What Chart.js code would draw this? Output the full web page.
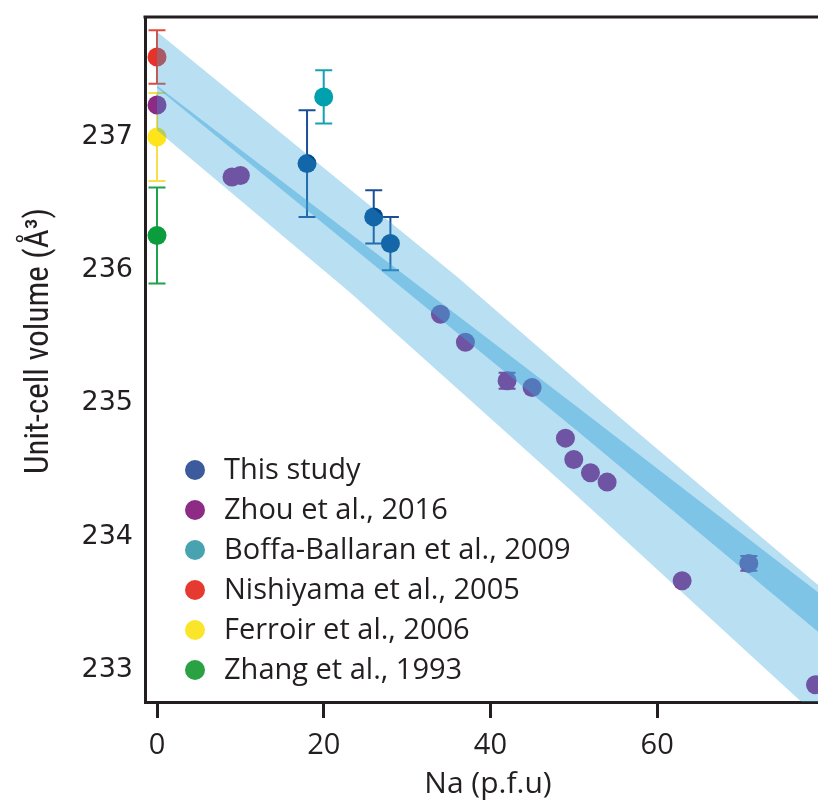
<!DOCTYPE html>
<html>
<head>
<meta charset="utf-8">
<script src="https://cdn.jsdelivr.net/npm/chart.js@4.4.0/dist/chart.umd.min.js"></script>
<style>
  html, body { margin: 0; padding: 0; background: #fff; }
  #wrap { width: 818px; height: 803px; }
</style>
</head>
<body>
<div id="wrap"><canvas id="chart" width="818" height="803"></canvas></div>
<script>
// axis ticks
const xTicks = [0, 20, 40, 60];
const yTicks = [233, 234, 235, 236, 237];

// This study
const studyNa = [18, 26, 28];
const studyVol = [236.8, 236.4, 236.2];
const studyErr = [0.4, 0.2, 0.2];

// Zhou et al., 2016
const zhouNa = [0, 9, 10, 34, 37, 42, 45, 49, 50, 52, 54, 63, 71, 79];
const zhouVol = [237.24, 236.70, 236.71, 235.67, 235.46, 235.17, 235.12, 234.74, 234.58, 234.48, 234.41, 233.67, 233.80, 232.89];
const zhouErr = [0, 0, 0, 0, 0, 0.06, 0, 0, 0, 0, 0, 0, 0.055, 0];

// Boffa-Ballaran et al., 2009
const boffaNa = [20];
const boffaVol = [237.3];
const boffaErr = [0.2];

// Nishiyama et al., 2005
const nishiNa = [0];
const nishiVol = [237.6];
const nishiErr = [0.2];

// Ferroir et al., 2006
const ferroirNa = [0];
const ferroirVol = [237.0];
const ferroirErr = [0.33];

// Zhang et al., 1993
const zhangNa = [0];
const zhangVol = [236.26];
const zhangErr = [0.36];

// fit bands (edges)
const outerUpNa = [0, 36, 53, 71.5, 80];
const outerUpVol = [237.79, 235.95, 235.03, 234.05, 233.60];
const outerLoNa = [0, 23.2, 50.5, 77.5, 80];
const outerLoVol = [237.05, 235.83, 234.30, 232.75, 232.61];
const innerUpNa = [0, 50.5, 80];
const innerUpVol = [237.385, 234.97, 233.55];
const innerLoNa = [0, 50.5, 80];
const innerLoVol = [237.37, 234.79, 233.25];

const INK = '#231f20';
const pts = (xs, ys) => xs.map((x, i) => ({ x: x, y: ys[i] }));

function scatterSet(label, xs, ys, errs, color, errColor, legendColor) {
  return {
    type: 'scatter',
    label: label,
    data: pts(xs, ys),
    errors: errs,
    errColor: errColor,
    legendColor: legendColor,
    backgroundColor: color,
    borderWidth: 0,
    pointRadius: 9.5,
    pointHoverRadius: 9.5,
    order: 2
  };
}

function bandSet(xs, ys, fill, color, order) {
  return {
    type: 'line',
    data: pts(xs, ys),
    borderColor: 'rgba(0,0,0,0)',
    borderWidth: 0,
    pointRadius: 0,
    tension: 0,
    fill: fill,
    backgroundColor: color,
    order: order
  };
}

const datasets = [
  scatterSet('This study', studyNa, studyVol, studyErr, '#00488f', '#1a4f96', '#3b5b9c'),
  scatterSet('Zhou et al., 2016', zhouNa, zhouVol, zhouErr, '#8c2a84', '#8c2a84', '#8e2c85'),
  scatterSet('Boffa-Ballaran et al., 2009', boffaNa, boffaVol, boffaErr, '#00a0af', '#13a3b0', '#47a3b0'),
  scatterSet('Nishiyama et al., 2005', nishiNa, nishiVol, nishiErr, '#e6332a', '#e04a3c', '#e6392f'),
  scatterSet('Ferroir et al., 2006', ferroirNa, ferroirVol, ferroirErr, '#fde41b', '#f4e04d', '#fbe52b'),
  scatterSet('Zhang et al., 1993', zhangNa, zhangVol, zhangErr, '#0b9c3e', '#1fa24a', '#2aa244'),
  bandSet(outerUpNa, outerUpVol, false, 'rgba(0,0,0,0)', 1),
  bandSet(outerLoNa, outerLoVol, '-1', 'rgba(55,164,218,0.35)', 1),
  bandSet(innerUpNa, innerUpVol, false, 'rgba(0,0,0,0)', 0),
  bandSet(innerLoNa, innerLoVol, '-1', 'rgba(55,164,218,0.45)', 0)
];

// error bars, drawn under the points
const errorBars = {
  id: 'errorBars',
  beforeDatasetsDraw(chart) {
    const ctx = chart.ctx;
    const yScale = chart.scales.y;
    ctx.save();
    ctx.lineWidth = 2;
    chart.data.datasets.forEach((ds, di) => {
      if (!ds.errors) return;
      const meta = chart.getDatasetMeta(di);
      ds.data.forEach((p, i) => {
        const e = ds.errors[i];
        if (!e) return;
        const px = meta.data[i].x;
        const top = yScale.getPixelForValue(p.y + e);
        const bot = yScale.getPixelForValue(p.y - e);
        ctx.strokeStyle = ds.errColor;
        ctx.beginPath();
        ctx.moveTo(px, top); ctx.lineTo(px, bot);
        ctx.moveTo(px - 8.5, top); ctx.lineTo(px + 8.5, top);
        ctx.moveTo(px - 8.5, bot); ctx.lineTo(px + 8.5, bot);
        ctx.stroke();
      });
    });
    ctx.restore();
  }
};

// frame top line, axis titles and the inset legend
const decorations = {
  id: 'decorations',
  afterDraw(chart) {
    const ctx = chart.ctx;
    const area = chart.chartArea;
    ctx.save();
    ctx.strokeStyle = INK;
    ctx.lineWidth = 3;
    ctx.beginPath();
    ctx.moveTo(area.left - 1.5, area.top);
    ctx.lineTo(chart.width, area.top);
    ctx.stroke();

    ctx.fillStyle = INK;
    ctx.textAlign = 'center';
    ctx.textBaseline = 'middle';
    ctx.font = '30px "Open Sans"';
    ctx.fillText('Na (p.f.u)', 488, 784);

    ctx.save();
    ctx.translate(40, 341);
    ctx.rotate(-Math.PI / 2);
    ctx.font = '33px "Liberation Sans Narrow", "Roboto Condensed", Roboto';
    ctx.fillText('Unit-cell volume (Å³)', 0, 0);
    ctx.restore();

    ctx.textAlign = 'left';
    ctx.font = '29px "Open Sans"';
    let row = 0;
    chart.data.datasets.forEach((ds) => {
      if (!ds.legendColor) return;
      const y = 470 + row * 40;
      ctx.fillStyle = ds.legendColor;
      ctx.beginPath();
      ctx.arc(195, y, 10, 0, Math.PI * 2);
      ctx.fill();
      ctx.fillStyle = INK;
      ctx.fillText(ds.label, 224, y + 1);
      row++;
    });
    ctx.restore();
  }
};

new Chart(document.getElementById('chart'), {
  type: 'scatter',
  data: { datasets: datasets },
  options: {
    responsive: false,
    animation: false,
    layout: { autoPadding: false, padding: { top: 17, right: 0, left: 0, bottom: 0 } },
    plugins: {
      legend: { display: false },
      tooltip: { enabled: false }
    },
    scales: {
      x: {
        type: 'linear',
        min: -1.44,
        max: 79.3,
        afterBuildTicks: (scale) => { scale.ticks = xTicks.map((v) => ({ value: v })); },
        afterFit: (scale) => {
          scale.height = 101;
          scale.paddingLeft = 0;
          scale.paddingRight = 0;
        },
        ticks: {
          font: { family: 'Open Sans', size: 29 },
          color: INK,
          padding: 10,
          maxRotation: 0
        },
        grid: {
          display: true,
          drawOnChartArea: false,
          drawTicks: true,
          tickLength: 16,
          lineWidth: 3,
          color: INK
        },
        border: { display: true, width: 3, color: INK }
      },
      y: {
        min: 232.76,
        max: 237.9,
        afterBuildTicks: (scale) => { scale.ticks = yTicks.map((v) => ({ value: v })); },
        afterFit: (scale) => {
          scale.width = 145;
          scale.paddingTop = 0;
          scale.paddingBottom = 0;
        },
        ticks: {
          font: { family: 'DejaVu Sans', size: 27 },
          color: INK,
          padding: 12
        },
        grid: { display: false, drawTicks: false },
        border: { display: true, width: 3, color: INK }
      }
    }
  },
  plugins: [errorBars, decorations]
});
</script>
</body>
</html>
